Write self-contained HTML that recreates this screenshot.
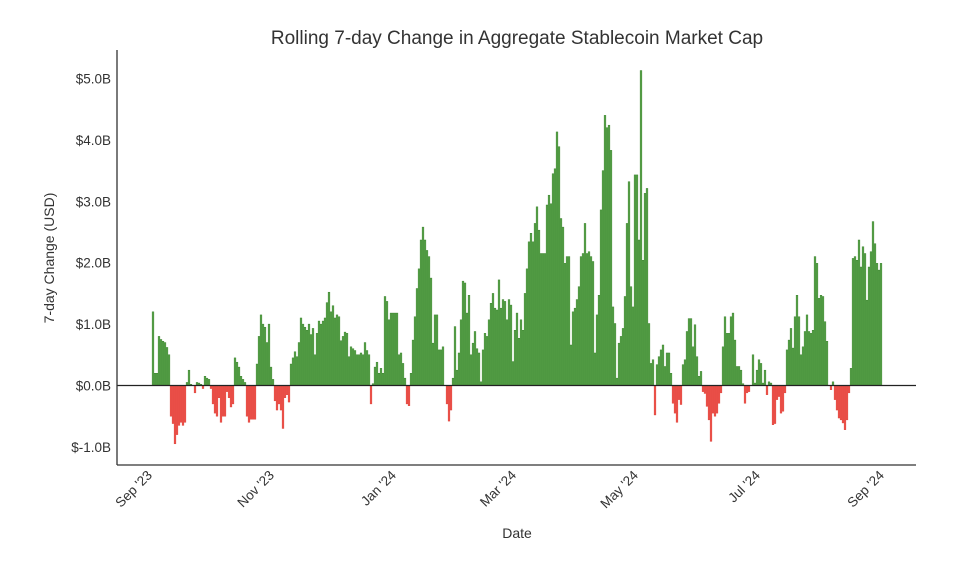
<!DOCTYPE html>
<html><head><meta charset="utf-8"><style>
body{margin:0;background:#fff;}
svg{display:block;font-family:"Liberation Sans","DejaVu Sans",sans-serif;}
</style></head><body>
<svg id="chart" width="960" height="562" viewBox="0 0 960 562">
<text x="517" y="44" text-anchor="middle" font-size="19" fill="#333">Rolling 7-day Change in Aggregate Stablecoin Market Cap</text>
<g id="bars"></g>
<g id="yaxis"></g>
<g id="xaxis"></g>
<line x1="117" y1="385.5" x2="916" y2="385.5" stroke="#222" stroke-width="1.3"/>
<line x1="117" y1="50" x2="117" y2="465" stroke="#333" stroke-width="1.3"/>
<line x1="117" y1="465" x2="916" y2="465" stroke="#333" stroke-width="1.3"/>
<text transform="translate(54,258) rotate(-90)" text-anchor="middle" font-size="14" fill="#333">7-day Change (USD)</text>
<text x="517" y="538" text-anchor="middle" font-size="14" fill="#333">Date</text>
</svg>
<script>
const values = [
1.2,0.2,0.2,0.8,0.75,0.72,0.7,0.62,0.5,-0.5,-0.62,-0.95,-0.8,-0.65,-0.6,-0.65,-0.6,0.05,0.25,0.02,
0,-0.12,0.05,0.04,0.02,-0.05,0.15,0.12,0.1,-0.05,-0.3,-0.45,-0.5,-0.2,-0.6,-0.5,-0.5,-0.1,-0.2,-0.35,
-0.3,0.45,0.38,0.3,0.15,0.1,0.05,-0.5,-0.6,-0.55,-0.55,-0.55,0.35,0.8,1.15,1.0,0.95,0.7,1.0,0.3,
0.1,-0.25,-0.4,-0.3,-0.4,-0.7,-0.2,-0.15,-0.27,0.35,0.45,0.55,
0.47,0.7,1.1,1.0,0.95,0.9,1.0,0.83,0.93,0.5,0.85,1.05,1.0,1.05,1.1,1.35,1.52,1.2,1.3,1.1,
1.15,1.12,0.73,0.8,0.87,0.85,0.47,0.63,0.6,0.57,0.5,0.5,0.53,0.5,0.7,0.57,0.5,-0.3,0.03,0.3,
0.38,0.2,0.28,0.2,1.45,1.37,1.07,1.18,1.18,1.18,1.18,0.5,
0.53,0.36,0.12,-0.3,-0.33,0.2,0.74,1.12,1.58,1.9,
2.37,2.58,2.37,2.2,2.1,1.75,0.69,1.15,1.15,0.58,
0.58,0.63,0,-0.3,-0.58,-0.4,0.12,0.96,0.25,0.53,
1.07,1.7,1.67,1.18,1.47,0.5,0.69,0.88,0.6,0.53,
0.06,0.58,0.85,0.8,1.07,1.34,1.5,1.26,1.23,1.72,
1.26,1.4,1.37,1.07,1.4,1.31,0.39,0.9,1.18,0.77,
1.07,0.9,1.5,1.9,2.34,2.48,2.34,2.64,2.91,2.53,
2.15,2.15,2.15,2.94,3.1,2.96,3.45,3.53,4.13,3.89,
2.72,2.58,1.99,2.1,2.1,0.66,1.2,1.26,1.4,1.61,
2.1,2.15,2.64,2.15,2.18,2.1,2.02,0.53,1.15,1.47,
2.86,3.5,4.4,4.2,4.24,3.83,1.28,1.01,0.12,0.69,
0.8,0.93,1.45,2.64,3.32,1.61,1.28,3.43,3.43,2.37,
5.13,2.04,3.13,3.21,1.01,0.36,0.42,-0.48,
0.34,0.47,0.58,0.66,0.31,0.53,0.53,0.2,
-0.29,-0.45,-0.6,-0.23,-0.31,
0.34,0.42,0.88,1.09,1.09,0.63,0.99,0.47,0.15,0.23,
-0.1,-0.13,-0.34,-0.56,-0.91,-0.45,-0.5,-0.45,-0.29,-0.12,
0.63,1.12,0.85,0.85,1.12,1.18,0.74,0.31,0.31,0.25,
0.03,-0.29,-0.12,-0.1,0,
0.5,0.04,0.25,0.42,0.36,0.04,0.25,-0.15,0.06,0.04,
-0.64,-0.62,-0.23,-0.18,-0.45,-0.42,-0.12,
0.58,0.74,0.93,0.61,1.12,1.47,1.12,0.5,0.63,0.88,
1.15,0.88,0.85,0.9,2.1,1.99,1.42,1.47,1.45,1.04,
0.72,0,
-0.07,0.06,-0.23,-0.4,-0.53,-0.56,-0.61,-0.72,-0.56,-0.12,
0.28,2.07,2.1,2.04,2.37,1.93,2.26,2.15,1.39,1.93,
2.18,2.67,2.31,1.99,1.88,1.99
];
const yTicks = [-1,0,1,2,3,4,5];
const yTickLabels = ["$-1.0B","$0.0B","$1.0B","$2.0B","$3.0B","$4.0B","$5.0B"];
const xTickDays = [0,61,122,182,243,304,366];
const xTickLabels = ["Sep '23","Nov '23","Jan '24","Mar '24","May '24","Jul '24","Sep '24"];

const NS = "http://www.w3.org/2000/svg";
function y(v){ return 385.5 - v*61.4; }
function x(d){ return 153 + d*2.0; }

const bars = document.getElementById('bars');
values.forEach((v,i)=>{
  const r = document.createElementNS(NS,'rect');
  const top = Math.min(y(v), y(0)), h = Math.abs(y(v)-y(0));
  r.setAttribute('x', x(i)-0.9);
  r.setAttribute('y', top);
  r.setAttribute('width', 1.8);
  r.setAttribute('height', Math.max(h,0.01));
  if (v >= 0){ r.setAttribute('fill','#58a449'); r.setAttribute('stroke','#2f7a22'); }
  else { r.setAttribute('fill','#f0504a'); r.setAttribute('stroke','#d83a30'); }
  r.setAttribute('stroke-width','0.4');
  
  
  bars.appendChild(r);
});

const ya = document.getElementById('yaxis');
yTicks.forEach((t,i)=>{
  const tx = document.createElementNS(NS,'text');
  tx.setAttribute('x',111); tx.setAttribute('y',y(t)+5);
  tx.setAttribute('text-anchor','end'); tx.setAttribute('font-size','13.5'); tx.setAttribute('fill','#333');
  tx.textContent = yTickLabels[i];
  
  
  ya.appendChild(tx);
});

const xa = document.getElementById('xaxis');
xTickDays.forEach((d,i)=>{
  const px = x(d);
  const tx = document.createElementNS(NS,'text');
  tx.setAttribute('transform','translate('+px+',476) rotate(-45)');
  tx.setAttribute('text-anchor','end'); tx.setAttribute('font-size','13.5'); tx.setAttribute('fill','#333');
  tx.textContent = xTickLabels[i];
  
  
  xa.appendChild(tx);
});
</script>
</body></html>
